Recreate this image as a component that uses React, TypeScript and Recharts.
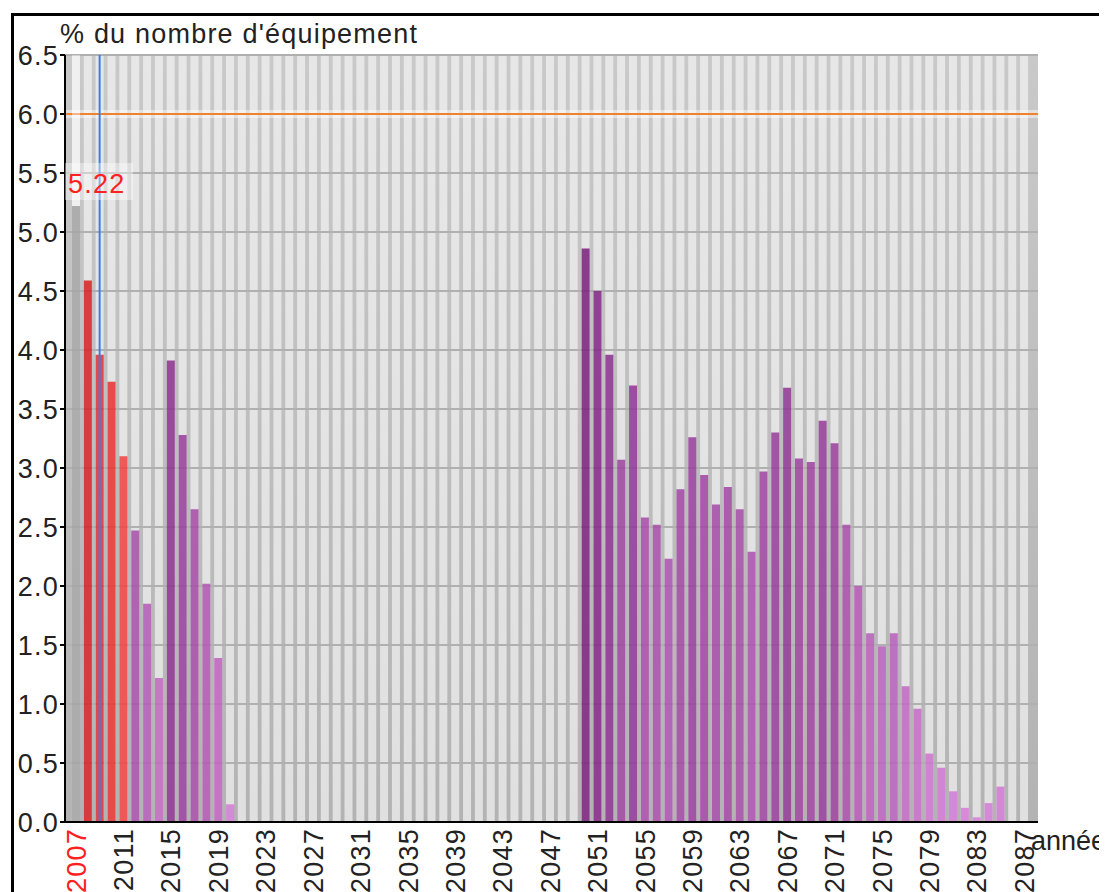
import {
  Bar, BarChart, CartesianGrid, Cell, LabelList, ReferenceLine, XAxis, YAxis,
} from "recharts";

const FONT = '"Liberation Sans", Arial, sans-serif';

const years = [
  "2007", "2008", "2009", "2010", "2011", "2012", "2013", "2014", "2015", "2016",
  "2017", "2018", "2019", "2020", "2021", "2022", "2023", "2024", "2025", "2026",
  "2027", "2028", "2029", "2030", "2031", "2032", "2033", "2034", "2035", "2036",
  "2037", "2038", "2039", "2040", "2041", "2042", "2043", "2044", "2045", "2046",
  "2047", "2048", "2049", "2050", "2051", "2052", "2053", "2054", "2055", "2056",
  "2057", "2058", "2059", "2060", "2061", "2062", "2063", "2064", "2065", "2066",
  "2067", "2068", "2069", "2070", "2071", "2072", "2073", "2074", "2075", "2076",
  "2077", "2078", "2079", "2080", "2081", "2082", "2083", "2084", "2085", "2086",
  "2087",
];

// % of equipment per year
const shares = [
  5.22, 4.59, 3.96, 3.73, 3.10, 2.47, 1.85, 1.22, 3.91, 3.28,
  2.65, 2.02, 1.39, 0.15, 0, 0, 0, 0, 0, 0,
  0, 0, 0, 0, 0, 0, 0, 0, 0, 0,
  0, 0, 0, 0, 0, 0, 0, 0, 0, 0,
  0, 0, 0, 4.86, 4.50, 3.96, 3.07, 3.70, 2.58, 2.52,
  2.23, 2.82, 3.26, 2.94, 2.69, 2.84, 2.65, 2.29, 2.97, 3.30,
  3.68, 3.08, 3.05, 3.40, 3.21, 2.52, 2.00, 1.60, 1.49, 1.60,
  1.15, 0.96, 0.58, 0.46, 0.26, 0.12, 0.04, 0.16, 0.30, 0,
  0,
];

const currentYear = "2007";
const redYears = ["2008", "2009", "2010", "2011"];
const cursorYear = "2009";
const threshold = 6.0;
const yTicks = [0, 0.5, 1, 1.5, 2, 2.5, 3, 3.5, 4, 4.5, 5, 5.5, 6, 6.5];

const PAD_L = 5;
const PAD_R = 8;

const data = years.map((year, i) => ({ year, share: shares[i] }));

function barColor(year: string, v: number) {
  if (year === currentYear) return "#a6a6a6";
  if (redYears.includes(year)) {
    const r = Math.min(255, Math.round(297 - 17.8 * v));
    const g = Math.round(137 - 20.9 * v);
    return `rgb(${r},${g},${g})`;
  }
  return `rgb(${Math.round(215 - 18.1 * v)},${Math.round(131.6 - 18.9 * v)},${Math.round(217 - 18.1 * v)})`;
}

// centres of the category bands, for the light column stripes
function columnCentres({ xAxis, offset }: any): number[] {
  try {
    const s = xAxis && xAxis.scale;
    const fn = typeof s === "function" ? s : s && typeof s.map === "function" ? (v: string) => s.map(v) : null;
    const bw = s && typeof s.bandwidth === "function" ? s.bandwidth() : 0;
    if (fn && bw > 0) {
      const out = years.map((yr) => Number(fn(yr)) + bw / 2);
      if (out.every((n) => Number.isFinite(n))) return out;
    }
  } catch (e) {
    // fall through
  }
  const band = (offset.width - PAD_L - PAD_R) / years.length;
  return years.map((_, i) => offset.left + PAD_L + band * (i + 0.5));
}

function YearTick(props: any) {
  const { x, y, payload } = props;
  return (
    <g transform={`translate(${x},${y + 6})`}>
      <text
        transform="rotate(-90)"
        textAnchor="end"
        dy="0.36em"
        fontSize={27}
        letterSpacing={1.2}
        fontFamily={FONT}
        fill={payload.value === currentYear ? "#ff2020" : "#222"}
      >
        {payload.value}
      </text>
    </g>
  );
}

function ValueBox(p: any) {
  if (p.index !== 0) return null;
  const x = Number(p.x), y = Number(p.y), w = Number(p.width);
  const h = Math.abs(Number(p.height)), v = Number(p.value);
  const top = y - (6.5 - v) * (h / v);
  return (
    <g>
      <rect x={x} y={top} width={w} height={y - top} fill="#fff" fillOpacity={0.4} />
      <rect x={x - 7} y={y - 43} width={68} height={37} fill="#fff" fillOpacity={0.4} />
      <text x={x - 4} y={y - 13} fontSize={27} letterSpacing={1.2} fontFamily={FONT} fill="#ff2020">
        {v.toFixed(2)}
      </text>
    </g>
  );
}

export default function App() {
  return (
    <div style={{ position: "relative", width: 1099, height: 884, overflow: "hidden" }}>
      <style>{"html,body{overflow:hidden}"}</style>
      <div
        style={{
          position: "absolute", left: 3, top: 5, width: 2000, height: 2000,
          borderTop: "3px solid #000", borderLeft: "3px solid #000",
        }}
      />
      <div style={{ position: "absolute", left: 0, top: 0 }}>
        <BarChart
          width={1099}
          height={884}
          data={data}
          margin={{ top: 47, right: 69, bottom: 0, left: 7 }}
        >
          <defs>
            <linearGradient id="plotBg" x1="0" y1="0" x2="0" y2="1">
              <stop offset="0%" stopColor="#c9c9c9" />
              <stop offset="100%" stopColor="#b3b3b3" />
            </linearGradient>
            <linearGradient id="colFill" gradientUnits="userSpaceOnUse" x1="0" y1="47" x2="0" y2="814">
              <stop offset="0%" stopColor="#e7e7e7" />
              <stop offset="100%" stopColor="#e0e0e0" />
            </linearGradient>
          </defs>
          <CartesianGrid
            horizontal={false}
            fill="url(#plotBg)"
            fillOpacity={1}
            stroke="url(#colFill)"
            strokeWidth={8}
            verticalCoordinatesGenerator={columnCentres}
          />
          <CartesianGrid vertical={false} stroke="#b0b0b0" strokeWidth={2} />
          <XAxis
            dataKey="year"
            interval={3}
            padding={{ left: PAD_L, right: PAD_R }}
            height={70}
            tickSize={0}
            tickMargin={0}
            tickLine={false}
            axisLine={{ stroke: "#000", strokeWidth: 2 }}
            tick={(p: any) => <YearTick {...p} />}
            label={(p: any) => {
              const vb = p.viewBox || {};
              return (
                <text x={vb.x + vb.width - 7} y={vb.y + 28} fontSize={27} fontFamily={FONT} fill="#222">
                  année
                </text>
              );
            }}
          />
          <YAxis
            width={50}
            domain={[0, 6.5]}
            ticks={yTicks}
            interval={0}
            tickFormatter={(v: number) => v.toFixed(1)}
            tickSize={5}
            tickMargin={1}
            axisLine={{ stroke: "#000", strokeWidth: 2 }}
            tickLine={{ stroke: "#000", strokeWidth: 2 }}
            tick={{ fontSize: 27, fill: "#222", fontFamily: FONT, letterSpacing: 1.2 }}
            label={(p: any) => {
              const vb = p.viewBox || {};
              return (
                <text x={vb.x + vb.width - 5} y={vb.y - 12} fontSize={27} letterSpacing={1.2} fontFamily={FONT} fill="#222">
                  % du nombre d'équipement
                </text>
              );
            }}
          />
          <Bar dataKey="share" barSize={8} fillOpacity={0.9} isAnimationActive={false}>
            {data.map((d) => (
              <Cell key={d.year} fill={barColor(d.year, d.share)} />
            ))}
            <LabelList dataKey="share" content={(p: any) => <ValueBox {...p} />} />
          </Bar>
          <ReferenceLine y={threshold} stroke="#ffffff" strokeOpacity={0.45} strokeWidth={8} />
          <ReferenceLine y={threshold} stroke="#f0812f" strokeWidth={2} />
          <ReferenceLine x={cursorYear} stroke="#3b7fe6" strokeWidth={2} />
        </BarChart>
      </div>
    </div>
  );
}
